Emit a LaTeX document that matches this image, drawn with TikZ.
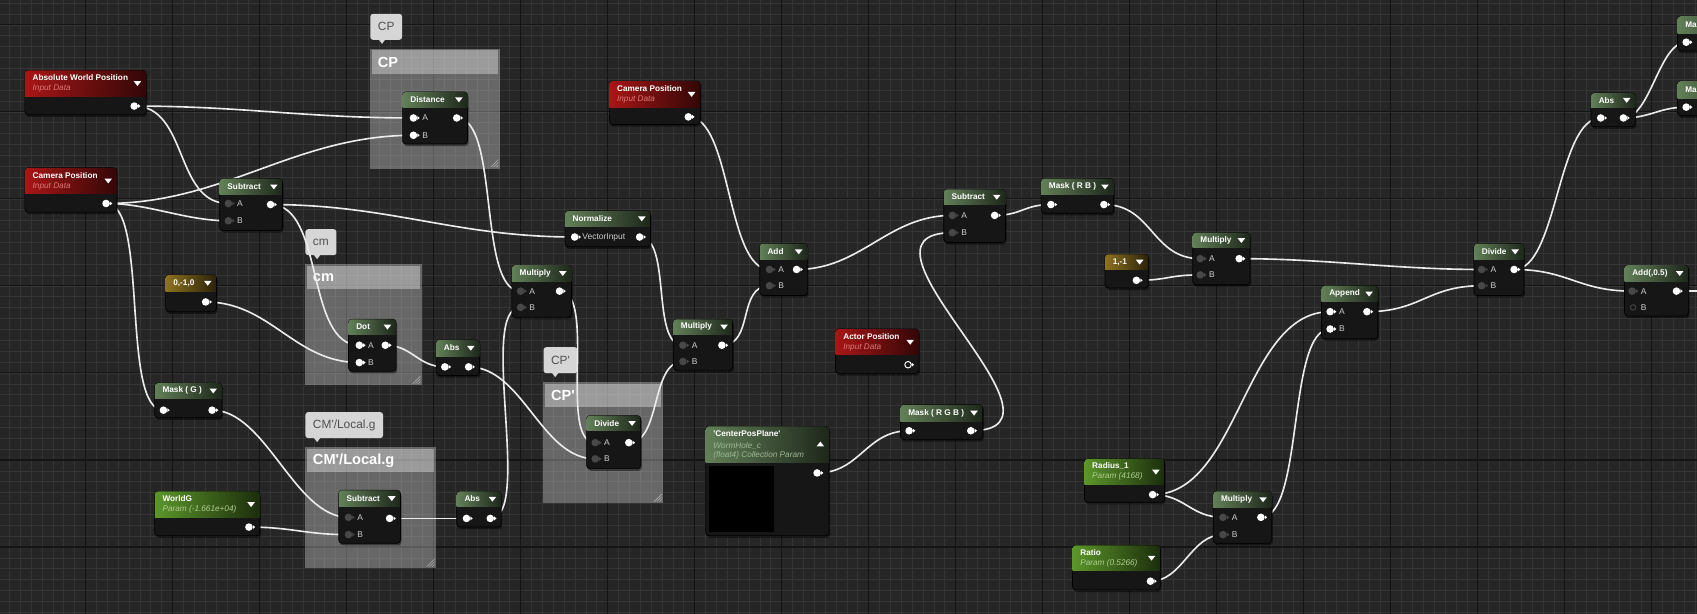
\documentclass[tikz,border=0pt]{standalone}
\usepackage{fontspec}
\setmainfont{Liberation Sans}
\definecolor{ueBack}{RGB}{38,38,38}
\definecolor{ueGridMinor}{RGB}{53,53,53}
\definecolor{ueGridMajor}{RGB}{20,20,20}
\definecolor{ueBody}{RGB}{22,22,22}
\definecolor{ueFunc}{RGB}{98,128,88}
\definecolor{ueInput}{RGB}{168,22,22}
\definecolor{ueConst}{RGB}{142,114,32}
\definecolor{ueParam}{RGB}{92,150,42}
\definecolor{ueWire}{RGB}{235,235,235}
\definecolor{uePinOff}{RGB}{72,72,72}
\definecolor{ueLabel}{RGB}{205,205,205}
\definecolor{ueInputSub}{RGB}{222,120,120}
\definecolor{ueParamSub}{RGB}{175,205,145}
\definecolor{ueFuncSub}{RGB}{160,184,150}
\definecolor{ueBubble}{RGB}{214,214,214}
\definecolor{ueBubbleText}{RGB}{80,80,80}

\pgfdeclarelayer{grid}
\pgfdeclarelayer{wires}
\pgfsetlayers{grid,wires,main}

% material node: name, x, y, width, height, header height, colour, title, marker angle
\newcommand{\matnode}[9]{%
  \pgfmathsetmacro{\tdy}{#6>20 ? 7 : #6/2}
  \fill[black, opacity=0.45, rounded corners=3] (#2+1,#3+2) rectangle ++(#4,#5);
  \node[node body, minimum width=#4, minimum height=#5] (#1) at (#2+#4/2,#3+#5/2) {};
  \begin{scope}
    \clip (#2,#3) rectangle ++(#4,#6);
    \shade[left color=#7, right color=#7!30!black, rounded corners=3] (#2,#3) rectangle ++(#4,#5);
  \end{scope}
  \node[node title] (#1-title) at (#2+7,#3+\tdy) {#8};
  \fill[white, rotate around={#9:(#2+#4-8,#3+#6/2)}] (#2+#4-11.5,#3+#6/2-2) -- ++(7,0) -- ++(-3.5,4.5) -- cycle;
}
% pin: name, x, y, colour
\newcommand{\matpin}[4]{%
  \node[pin dot, fill=#4] (#1) at (#2,#3) {};
  \fill[#4] (#2+3.6,#3-1.8) -- (#2+5.8,#3) -- (#2+3.6,#3+1.8) -- cycle;
}
% comment box: name, x, y, width, height, text
\newcommand{\commentbox}[6]{%
  \fill[white, opacity=0.3] (#2,#3) rectangle ++(#4,#5);
  \fill[white, opacity=0.34] (#2+2,#3+1.5) rectangle (#2+#4-2,#3+23);
  \node[group title] (#1-title) at (#2+7,#3+12.5) {#6};
  \node[bubble, anchor=south west] (#1-bubble) at (#2,#3-8) {#6};
  \fill[ueBubble] (#2+8,#3-8.5) -- ++(6,0) -- ++(-3,4) -- cycle;
  \foreach \k in {2,4.5,7}
    \draw[white!70!black, line width=0.5] (#2+#4-1.5-\k,#3+#5-1.5) -- (#2+#4-1.5,#3+#5-1.5-\k);
}
\newcommand{\wire}[3]{\draw[wire] (#1.center) .. controls +(#3,0) and +(-#3,0) .. (#2.center);}

\begin{document}
\begin{tikzpicture}[x=1pt, y=-1pt,
  node body/.style={draw=black, line width=0.6, fill=ueBody, rounded corners=3, inner sep=0, outer sep=0},
  node title/.style={anchor=west, inner sep=0, text=white, font=\fontsize{7.6}{9}\selectfont\bfseries},
  node sub/.style={anchor=west, inner sep=0, font=\fontsize{7.6}{9}\selectfont\itshape},
  pin dot/.style={circle, inner sep=0, minimum size=7},
  pin text/.style={anchor=west, inner sep=0, text=ueLabel, font=\fontsize{7.8}{9}\selectfont},
  wire/.style={draw=ueWire, line width=1.5},
  group title/.style={anchor=west, inner sep=0, text=white, font=\fontsize{13.5}{15}\selectfont\bfseries},
  bubble/.style={fill=ueBubble, rounded corners=2.5, minimum height=24, inner xsep=7, inner ysep=0, text=ueBubbleText, font=\fontsize{11}{12}\selectfont},
  grid minor/.style={draw=ueGridMinor, line width=0.6},
  grid major/.style={draw=ueGridMajor, line width=1}]
  \useasboundingbox (0,0) rectangle (1568,567);
  \clip (0,0) rectangle (1568,567);

  \begin{pgfonlayer}{grid}
    % Grid
    \fill[ueBack] (0,0) rectangle (1568,567);
    \foreach \i in {-7,...,148}
      \draw[grid minor] ({79+\i*10.05},0) -- ({79+\i*10.05},567);
    \foreach \j in {-2,...,54}
      \draw[grid minor] (0,{23+\j*10.05}) -- (1568,{23+\j*10.05});
    \foreach \i in {0,...,18}
      \draw[grid major] ({79+\i*80.4},0) -- ({79+\i*80.4},567);
    \foreach \j in {0,...,6}
      \draw[grid major] (0,{23+\j*80.4}) -- (1568,{23+\j*80.4});

    % Comment boxes
    \commentbox{cpgroup}{342}{45}{120}{111}{CP}
    \commentbox{cmgroup}{282}{244}{108}{112}{cm}
    \commentbox{cmlocal}{282}{413}{121}{112}{CM\textquotesingle/Local.g}
    \commentbox{cpprime}{502}{353}{111}{112}{CP\textquotesingle}
  \end{pgfonlayer}

  % Input data
  \matnode{awp}{23}{65}{112}{41}{24}{ueInput}{Absolute World Position}{0}
  \node[node sub, text=ueInputSub] (awp-sub) at (30,82) {Input Data};
  \matpin{awp-out}{124}{98}{white}

  \matnode{campos}{23}{155}{85}{41}{24}{ueInput}{Camera Position}{0}
  \node[node sub, text=ueInputSub] (campos-sub) at (30,172) {Input Data};
  \matpin{campos-out}{98}{188}{white}

  \matnode{camrel}{563}{75}{84}{40}{24}{ueInput}{Camera Position}{0}
  \node[node sub, text=ueInputSub] (camrel-sub) at (570,92) {Input Data};
  \matpin{camrel-out}{636}{108}{white}

  \matnode{actor}{772}{304}{77}{41}{24}{ueInput}{Actor Position}{0}
  \node[node sub, text=ueInputSub] (actor-sub) at (779,321.5) {Input Data};
  \node[pin dot, draw=white, fill=ueBody, line width=0.9, minimum size=6] (actor-out) at (839,337) {};
  \fill[white] (842.6,335.3) -- (844.6,337) -- (842.6,338.7) -- cycle;

  % Constants and parameters
  \matnode{vecneg}{153}{254}{47}{34}{15}{ueConst}{0,-1,0}{0}
  \matpin{vecneg-out}{190}{279}{white}

  \matnode{vecflip}{1021}{235}{40}{31}{14}{ueConst}{1,-1}{0}
  \matpin{vecflip-out}{1050}{259}{white}

  \matnode{worldg}{143}{454}{97}{41}{24}{ueParam}{WorldG}{0}
  \node[node sub, text=ueParamSub] (worldg-sub) at (150,471) {Param (-1.661e+04)};
  \matpin{worldg-out}{230}{487}{white}

  \matnode{radius}{1002}{424}{74}{40}{24}{ueParam}{Radius\_1}{0}
  \node[node sub, text=ueParamSub] (radius-sub) at (1009,440) {Param (4168)};
  \matpin{radius-out}{1065}{457}{white}

  \matnode{ratio}{991}{504}{81}{41}{23}{ueParam}{Ratio}{0}
  \node[node sub, text=ueParamSub] (ratio-sub) at (998,521) {Param (0.5266)};
  \matpin{ratio-out}{1063}{537}{white}

  \matnode{cpp}{652}{394}{114}{101}{33}{ueFunc}{\textquotesingle CenterPosPlane\textquotesingle}{180}
  \node[node sub, text=ueFuncSub] (cpp-sub1) at (659,412.5) {WormHole\_c};
  \node[node sub, text=ueFuncSub] (cpp-sub2) at (659,421) {(float4) Collection Param};
  \fill[black] (655,431) rectangle (715,492);
  \matpin{cpp-out}{755}{437}{white}

  % CP / cm / CM'/Local.g / CP' nodes
  \matnode{dist}{372}{85}{60}{48}{14}{ueFunc}{Distance}{0}
  \matpin{dist-a}{382}{109}{white}
  \matpin{dist-b}{382}{125}{white}
  \node[pin text] (dist-ta) at (390,109) {A};
  \node[pin text] (dist-tb) at (390,125) {B};
  \matpin{dist-out}{422}{109}{white}

  \matnode{sub1}{203}{165}{58}{48}{15}{ueFunc}{Subtract}{0}
  \matpin{sub1-a}{211}{188}{uePinOff}
  \matpin{sub1-b}{211}{204}{uePinOff}
  \node[pin text] (sub1-ta) at (219,188) {A};
  \node[pin text] (sub1-tb) at (219,204) {B};
  \matpin{sub1-out}{250}{189}{white}

  \matnode{dot}{322}{295}{44}{48}{14}{ueFunc}{Dot}{0}
  \matpin{dot-a}{332}{319}{white}
  \matpin{dot-b}{332}{335}{white}
  \node[pin text] (dot-ta) at (340,319) {A};
  \node[pin text] (dot-tb) at (340,335) {B};
  \matpin{dot-out}{356}{319}{white}

  \matnode{abs1}{403}{314}{40}{33}{15}{ueFunc}{Abs}{0}
  \matpin{abs1-in}{411}{339}{white}
  \matpin{abs1-out}{433}{339}{white}

  \matnode{mul1}{473}{245}{55}{48}{15}{ueFunc}{Multiply}{0}
  \matpin{mul1-a}{481}{269}{uePinOff}
  \matpin{mul1-b}{481}{284}{uePinOff}
  \node[pin text] (mul1-ta) at (489,269) {A};
  \node[pin text] (mul1-tb) at (489,284) {B};
  \matpin{mul1-out}{517}{269}{white}

  \matnode{maskg}{143}{354}{62}{32}{14}{ueFunc}{Mask ( G )}{0}
  \matpin{maskg-in}{151}{379}{white}
  \matpin{maskg-out}{196}{379}{white}

  \matnode{sub2}{313}{453}{57}{49}{15}{ueFunc}{Subtract}{0}
  \matpin{sub2-a}{322}{478}{uePinOff}
  \matpin{sub2-b}{322}{494}{uePinOff}
  \node[pin text] (sub2-ta) at (330,478) {A};
  \node[pin text] (sub2-tb) at (330,494) {B};
  \matpin{sub2-out}{360}{479}{white}

  \matnode{abs2}{422}{454}{41}{33}{14}{ueFunc}{Abs}{0}
  \matpin{abs2-in}{431}{479}{white}
  \matpin{abs2-out}{453}{479}{white}

  \matnode{norm}{522}{195}{79}{33}{14}{ueFunc}{Normalize}{0}
  \matpin{norm-in}{531}{219}{white}
  \node[pin text] (norm-tin) at (538,219) {VectorInput};
  \matpin{norm-out}{591}{219}{white}

  \matnode{div1}{542}{384}{50}{49}{14}{ueFunc}{Divide}{0}
  \matpin{div1-a}{550}{409}{uePinOff}
  \matpin{div1-b}{550}{424}{uePinOff}
  \node[pin text] (div1-ta) at (558,409) {A};
  \node[pin text] (div1-tb) at (558,424) {B};
  \matpin{div1-out}{581}{409}{white}

  \matnode{mul2}{622}{295}{55}{47}{14}{ueFunc}{Multiply}{0}
  \matpin{mul2-a}{631}{319}{uePinOff}
  \matpin{mul2-b}{631}{334}{uePinOff}
  \node[pin text] (mul2-ta) at (639,319) {A};
  \node[pin text] (mul2-tb) at (639,334) {B};
  \matpin{mul2-out}{667}{319}{white}

  % Right half
  \matnode{add}{702}{225}{44}{48}{15}{ueFunc}{Add}{0}
  \matpin{add-a}{711}{249}{uePinOff}
  \matpin{add-b}{711}{264}{uePinOff}
  \node[pin text] (add-ta) at (719,249) {A};
  \node[pin text] (add-tb) at (719,264) {B};
  \matpin{add-out}{736}{249}{white}

  \matnode{maskrgb}{832}{374}{76}{32}{15}{ueFunc}{Mask ( R G B )}{0}
  \matpin{maskrgb-in}{840}{398}{white}
  \matpin{maskrgb-out}{897}{398}{white}

  \matnode{sub3}{872}{175}{57}{49}{14}{ueFunc}{Subtract}{0}
  \matpin{sub3-a}{880}{199}{uePinOff}
  \matpin{sub3-b}{880}{215}{uePinOff}
  \node[pin text] (sub3-ta) at (888,199) {A};
  \node[pin text] (sub3-tb) at (888,215) {B};
  \matpin{sub3-out}{919}{199}{white}

  \matnode{maskrb}{962}{165}{67}{32}{15}{ueFunc}{Mask ( R B )}{0}
  \matpin{maskrb-in}{971}{189}{white}
  \matpin{maskrb-out}{1020}{189}{white}

  \matnode{mul3}{1102}{215}{53}{48}{14}{ueFunc}{Multiply}{0}
  \matpin{mul3-a}{1109}{239}{uePinOff}
  \matpin{mul3-b}{1109}{254}{uePinOff}
  \node[pin text] (mul3-ta) at (1117,239) {A};
  \node[pin text] (mul3-tb) at (1117,254) {B};
  \matpin{mul3-out}{1145}{239}{white}

  \matnode{append}{1221}{264}{52}{49}{15}{ueFunc}{Append}{0}
  \matpin{append-a}{1229}{288}{white}
  \matpin{append-b}{1229}{304}{white}
  \node[pin text] (append-ta) at (1237,288) {A};
  \node[pin text] (append-tb) at (1237,304) {B};
  \matpin{append-out}{1263}{288}{white}

  \matnode{mul4}{1121}{454}{54}{48}{15}{ueFunc}{Multiply}{0}
  \matpin{mul4-a}{1130}{478}{uePinOff}
  \matpin{mul4-b}{1130}{494}{uePinOff}
  \node[pin text] (mul4-ta) at (1138,478) {A};
  \node[pin text] (mul4-tb) at (1138,494) {B};
  \matpin{mul4-out}{1165}{478}{white}

  \matnode{div2}{1362}{225}{46}{48}{15}{ueFunc}{Divide}{0}
  \matpin{div2-a}{1369}{249}{uePinOff}
  \matpin{div2-b}{1369}{264}{uePinOff}
  \node[pin text] (div2-ta) at (1377,249) {A};
  \node[pin text] (div2-tb) at (1377,264) {B};
  \matpin{div2-out}{1399}{249}{white}

  \matnode{abs3}{1470}{86}{41}{31}{13}{ueFunc}{Abs}{0}
  \matpin{abs3-in}{1479}{109}{white}
  \matpin{abs3-out}{1500}{109}{white}

  \matnode{maskx}{1550}{15}{70}{32}{16}{ueFunc}{Ma}{0}
  \matpin{maskx-in}{1558}{39}{white}
  \matnode{masky}{1550}{75}{70}{32}{16}{ueFunc}{Ma}{0}
  \matpin{masky-in}{1558}{99}{white}

  \matnode{add05}{1501}{245}{59}{47}{15}{ueFunc}{Add(,0.5)}{0}
  \matpin{add05-a}{1508}{269}{uePinOff}
  \node[pin dot, draw=uePinOff, line width=0.8, minimum size=5] (add05-b) at (1509,284) {};
  \node[pin text] (add05-ta) at (1516,269) {A};
  \node[pin text] (add05-tb) at (1516,284) {B};
  \matpin{add05-out}{1549}{269}{white}
  \coordinate (edge) at (1568,269);

  \begin{pgfonlayer}{wires}
    % Wires
    \wire{awp-out}{dist-a}{100}
    \wire{awp-out}{sub1-a}{50}
    \wire{campos-out}{dist-b}{110}
    \wire{campos-out}{sub1-b}{40}
    \wire{campos-out}{maskg-in}{40}
    \wire{sub1-out}{norm-in}{110}
    \wire{sub1-out}{dot-a}{50}
    \wire{vecneg-out}{dot-b}{60}
    \wire{dist-out}{mul1-a}{40}
    \wire{dot-out}{abs1-in}{25}
    \wire{abs1-out}{div1-b}{50}
    \wire{abs2-out}{mul1-b}{40}
    \wire{sub2-out}{abs2-in}{20}
    \wire{worldg-out}{sub2-b}{40}
    \wire{maskg-out}{sub2-a}{50}
    \wire{norm-out}{mul2-a}{30}
    \wire{mul1-out}{div1-a}{35}
    \wire{div1-out}{mul2-b}{30}
    \wire{mul2-out}{add-b}{30}
    \wire{camrel-out}{add-a}{40}
    \wire{add-out}{sub3-a}{60}
    \wire{cpp-out}{maskrgb-in}{40}
    \wire{maskrgb-out}{sub3-b}{110}
    \wire{sub3-out}{maskrb-in}{25}
    \wire{maskrb-out}{mul3-a}{45}
    \wire{vecflip-out}{mul3-b}{30}
    \wire{mul3-out}{div2-a}{80}
    \wire{append-out}{div2-b}{50}
    \wire{div2-out}{abs3-in}{40}
    \wire{div2-out}{add05-a}{50}
    \wire{abs3-out}{maskx-in}{25}
    \wire{abs3-out}{masky-in}{25}
    \wire{radius-out}{append-a}{80}
    \wire{radius-out}{mul4-a}{30}
    \wire{ratio-out}{mul4-b}{30}
    \wire{mul4-out}{append-b}{40}
    \wire{add05-out}{edge}{10}
  \end{pgfonlayer}
\end{tikzpicture}
\end{document}
